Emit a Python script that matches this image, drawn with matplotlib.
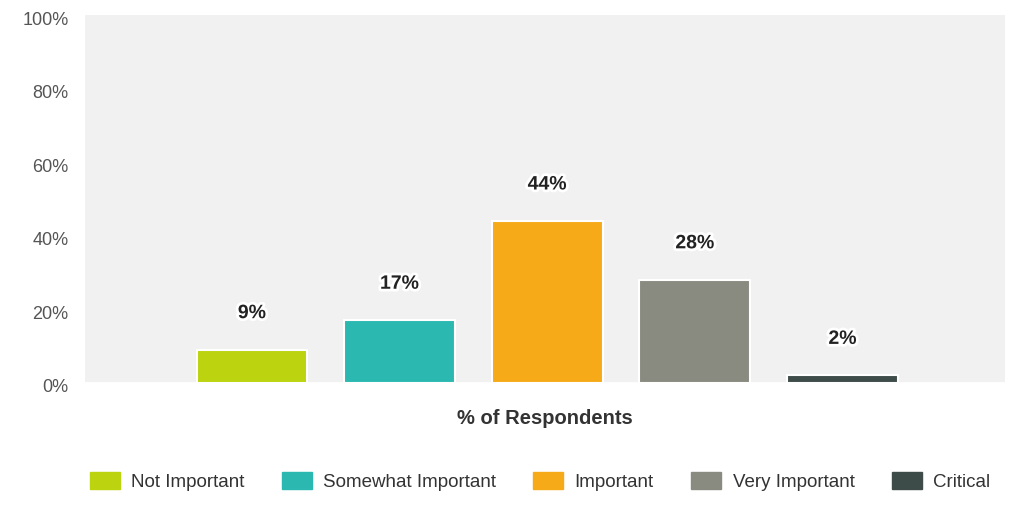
import matplotlib.pyplot as plt
import matplotlib.patheffects as pe
from matplotlib.patches import Patch
from matplotlib.transforms import ScaledTranslation

plt.rcParams['font.family'] = ['Liberation Sans', 'DejaVu Sans']

# survey answers
categories = ["Not Important", "Somewhat Important", "Important", "Very Important", "Critical"]
values = [9, 17, 44, 28, 2]
colors = ["#bcd30f", "#2bb8b0", "#f6aa17", "#8a8b80", "#3e4c49"]
yticks = [0, 20, 40, 60, 80, 100]
ytick_labels = ["0%", "20%", "40%", "60%", "80%", "100%"]

fig = plt.figure(figsize=(10.13, 5.23), dpi=100)
ax = fig.add_axes([0.084, 0.268, 0.908, 0.703])
ax.set_facecolor("#f1f1f1")

xs = range(len(values))
ax.bar(xs, values, width=0.75, color=colors, edgecolor="white", linewidth=1.5)

for x, v in zip(xs, values):
    t = ax.text(x, v + 7.5, f"{v}%", ha="center", va="bottom",
                fontsize=14, fontweight="bold", color="#222222")
    t.set_path_effects([pe.withStroke(linewidth=4, foreground="white")])

ax.set_xlim(-1.13, 5.1)
ax.set_ylim(0, 100)
ax.set_yticks(yticks)
ax.set_yticklabels(ytick_labels)
ax.set_xticks([])
ax.tick_params(axis="y", length=0, labelsize=13, labelcolor="#555555", pad=12)
# nudge the percent labels down a little
for lbl in ax.get_yticklabels():
    lbl.set_transform(lbl.get_transform() + ScaledTranslation(0, -0.03, fig.dpi_scale_trans))
for s in ax.spines.values():
    s.set_visible(False)
ax.axhline(0, color="white", linewidth=2)

ax.set_xlabel("% of Respondents", fontsize=14.5, fontweight="bold",
              color="#333333", labelpad=19)

handles = [Patch(facecolor=c, edgecolor=c) for c in colors]
fig.legend(handles, categories, loc="center", bbox_to_anchor=(0.533, 0.08),
           ncol=5, frameon=False, fontsize=13.5, handlelength=1.6,
           handleheight=1.0, handletextpad=0.6, columnspacing=2.0,
           labelcolor="#333333")

fig.savefig("out.png", dpi=100, facecolor="white")
